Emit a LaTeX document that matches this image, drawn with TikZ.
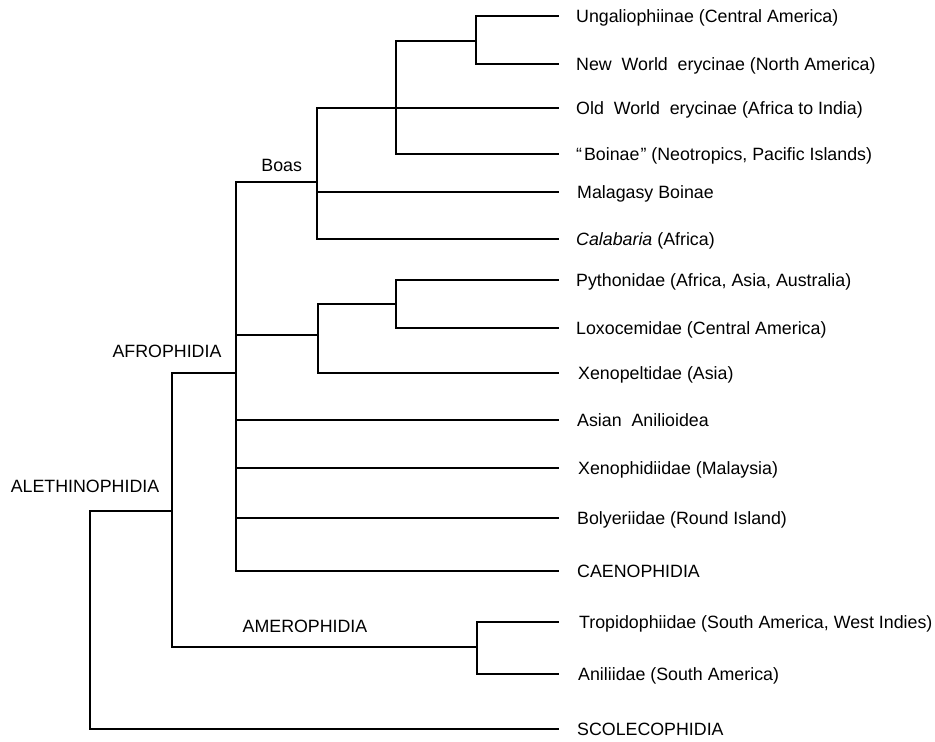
\documentclass[tikz,border=0pt]{standalone}
\usepackage{fontspec}
\setmainfont{Liberation Sans}
\begin{document}
\begin{tikzpicture}[x=1pt,y=-1pt,
  branch/.style={line width=2.1pt, line cap=rect},
  leaf/.style={anchor=west, inner xsep=18pt, inner ysep=0pt, text height=12.8pt, text depth=0pt, font=\fontsize{17.8}{21}\selectfont},
  clade/.style={inner sep=0pt, font=\fontsize{17.8}{21}\selectfont}]
\useasboundingbox (0,0) rectangle (935,742);
% leaves
\node[leaf] (ung) at (558,15.7) {Ungaliophiinae (Central America)};
\node[leaf] (nwe) at (558,64) {New~~World~~erycinae (North America)};
\node[leaf] (owe) at (558,108) {Old~~World~~erycinae (Africa to India)};
\node[leaf] (boi) at (558,153.7) {“\hspace{2pt}Boinae\hspace{1pt}” (Neotropics, Pacific Islands)};
\node[leaf] (mal) at (558,191.7) {\hspace{1pt}Malagasy Boinae};
\node[leaf] (cal) at (558,239.3) {\textit{Calabaria} (Africa)};
\node[leaf] (pyt) at (558,280.3) {Pythonidae (Africa, Asia, Australia)};
\node[leaf] (lox) at (558,328.3) {Loxocemidae (Central America)};
\node[leaf] (xpe) at (558,373.3) {\hspace{2pt}Xenopeltidae (Asia)};
\node[leaf] (asi) at (558,419.7) {\hspace{1pt}Asian~~Anilioidea};
\node[leaf] (xph) at (558,468.3) {\hspace{2pt}Xenophidiidae (Malaysia)};
\node[leaf] (bol) at (558,517.7) {\hspace{1pt}Bolyeriidae (Round Island)};
\node[leaf] (cae) at (558,570.7) {\hspace{1pt}CAENOPHIDIA};
\node[leaf] (tro) at (558,622.3) {\hspace{3pt}Tropidophiidae (South America, West Indies)};
\node[leaf] (ani) at (558,673.7) {\hspace{2pt}Aniliidae (South America)};
\node[leaf] (sco) at (558,728.7) {\hspace{1pt}SCOLECOPHIDIA};
% internal junctions
\coordinate (b1) at (475.7,40.7);
\coordinate (b2) at (396,108);
\coordinate (b3) at (316.7,181.7);
\coordinate (b4) at (235.7,373.3);
\coordinate (b5) at (318.3,335);
\coordinate (b6) at (396,304);
\coordinate (b7) at (172.3,510.7);
\coordinate (b8) at (476.8,647.3);
\coordinate (b9) at (90,600);
% clade labels
\node[clade] (boas) at (281.7,165) {Boas};
\node[clade] (afro) at (167,351.7) {AFROPHIDIA};
\node[clade] (alet) at (85,486) {ALETHINOPHIDIA};
\node[clade] (amer) at (305,626) {AMEROPHIDIA};
% branches
\draw[branch] (ung.west) -| (b1) |- (nwe.west);
\draw[branch] (b1) -| (b2) |- (boi.west);
\draw[branch] (owe.west) -| (b3) |- (cal.west);
\draw[branch] (b3 |- mal.west) -- (mal.west);
\draw[branch] (b3) -| (b4) |- (cae.west);
\draw[branch] (pyt.west) -| (b6) |- (lox.west);
\draw[branch] (b6) -| (b5) |- (xpe.west);
\draw[branch] (b5) -- (b4 |- b5);
\draw[branch] (b4 |- asi.west) -- (asi.west);
\draw[branch] (b4 |- xph.west) -- (xph.west);
\draw[branch] (b4 |- bol.west) -- (bol.west);
\draw[branch] (b4) -| (b7) |- (b8);
\draw[branch] (tro.west) -| (b8) |- (ani.west);
\draw[branch] (b7) -| (b9) |- (sco.west);
\end{tikzpicture}
\end{document}
